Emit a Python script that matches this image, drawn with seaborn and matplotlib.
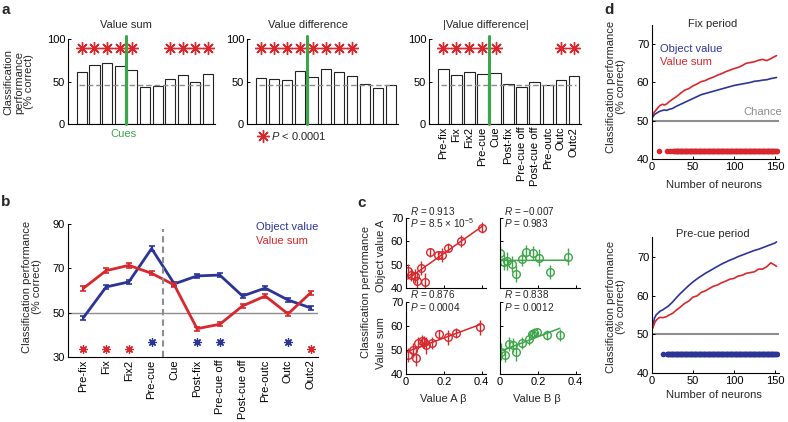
import matplotlib
matplotlib.use("Agg")
import matplotlib.pyplot as plt
import numpy as np
import pandas as pd
import seaborn as sns

W, H = 788, 422

BLUE = "#2c3596"
RED = "#d8272d"
GREEN = "#3ea54a"
GRAY = "#8e8e8e"

periods = ["Pre-fix", "Fix", "Fix2", "Pre-cue", "Cue", "Post-fix",
           "Pre-cue off", "Post-cue off", "Pre-outc", "Outc", "Outc2"]

# panel a: decoding per period
bar_sum = [61.4, 69.3, 72.4, 68.5, 63.8, 43.3, 44.9, 53.1, 57.9, 50.0, 59.4]
bar_diff = [53.9, 53.1, 52.4, 62.6, 55.5, 65.0, 61.0, 56.3, 46.9, 42.9, 45.7]
bar_absdiff = [65.4, 58.4, 61.5, 58.8, 60.7, 47.5, 43.2, 49.8, 45.9, 52.5, 57.2]
chance_a = 45.5
star_level_a = 90
sig_sum = [0, 1, 2, 3, 4, 7, 8, 9, 10]
sig_diff = [0, 1, 2, 3, 4, 5, 6, 7]
sig_absdiff = [0, 1, 2, 3, 4, 9, 10]

# panel b
obj_b = [47.7, 61.6, 63.9, 79.0, 63.0, 66.6, 67.0, 57.5, 61.1, 55.7, 52.1]
obj_b_err = [0.9, 1.0, 1.0, 1.1, 0.9, 1.0, 1.0, 1.0, 1.0, 0.9, 0.9]
sum_b = [61.0, 69.0, 71.4, 67.8, 62.5, 42.7, 44.7, 53.0, 57.5, 49.4, 59.0]
sum_b_err = [1.0, 1.0, 1.0, 1.0, 1.0, 0.9, 0.9, 1.0, 1.0, 1.0, 1.0]
sig_obj_b = [3, 5, 6, 9]
sig_sum_b = [0, 1, 2, 10]
star_obj_b = 36.7
star_sum_b = 33.3

# panel c
ca_x = [0.009, 0.027, 0.046, 0.060, 0.077, 0.100, 0.128, 0.168, 0.190, 0.223, 0.290, 0.404]
ca_obj = [47.4, 45.7, 45.2, 43.1, 48.5, 42.8, 55.3, 54.0, 54.0, 57.3, 60.2, 65.8]
ca_obj_err = [3.0, 2.5, 3.0, 3.5, 3.0, 3.5, 2.0, 2.0, 3.0, 2.0, 2.5, 2.5]
cb_x = [0.000, 0.021, 0.039, 0.061, 0.084, 0.114, 0.137, 0.172, 0.207, 0.263, 0.360]
cb_obj = [54.9, 51.3, 51.6, 50.3, 46.1, 52.5, 55.3, 54.9, 53.0, 47.1, 53.5]
cb_obj_err = [3.0, 3.5, 4.0, 3.5, 3.5, 3.0, 3.0, 3.0, 3.5, 3.0, 3.5]
ca_x2 = [0.013, 0.035, 0.053, 0.064, 0.082, 0.097, 0.108, 0.137, 0.174, 0.223, 0.263, 0.393]
ca_sum = [47.9, 49.9, 46.8, 52.7, 53.8, 53.4, 52.0, 52.7, 56.4, 55.2, 57.1, 59.3]
ca_sum_err = [3.0, 3.0, 3.5, 2.5, 2.5, 2.5, 3.5, 2.5, 2.0, 3.0, 2.0, 3.0]
cb_x2 = [0.004, 0.026, 0.049, 0.067, 0.084, 0.114, 0.154, 0.167, 0.181, 0.196, 0.246, 0.316]
cb_sum = [49.3, 47.9, 52.4, 52.0, 49.0, 52.7, 54.5, 56.4, 57.1, 57.6, 56.2, 56.2]
cb_sum_err = [3.5, 3.0, 3.0, 3.0, 3.5, 2.5, 2.5, 2.0, 2.0, 1.5, 2.0, 2.5]
c_stats = [("0.913", r"8.5 × 10$^{-5}$"), ("\u22120.007", "0.983"),
           ("0.876", "0.0004"), ("0.838", "0.0012")]

# panel d
n_neurons = [1, 3, 5, 8, 10, 13, 15, 18, 20, 25, 30, 35, 40, 45, 50, 55, 60, 65, 70,
             75, 80, 85, 90, 95, 100, 105, 110, 115, 120, 125, 130, 135, 140, 145, 150, 152]
fix_obj = [51.0, 51.6, 51.9, 52.3, 52.5, 52.7, 52.8, 52.7, 52.9, 53.2, 53.8, 54.3, 54.8,
           55.3, 55.8, 56.3, 56.8, 57.1, 57.4, 57.7, 58.0, 58.3, 58.6, 58.9, 59.2, 59.4,
           59.6, 59.8, 60.0, 60.3, 60.4, 60.6, 60.7, 61.0, 61.2, 61.3]
fix_sum = [51.5, 52.3, 52.8, 53.6, 54.0, 54.3, 54.1, 54.4, 54.8, 55.6, 56.3, 57.2, 58.0,
           58.4, 59.1, 59.6, 60.2, 60.5, 61.0, 61.4, 61.9, 62.3, 62.8, 63.2, 63.6, 63.9,
           64.4, 65.0, 65.2, 65.4, 65.8, 66.0, 65.7, 66.2, 66.8, 67.0]
pre_obj = [52.0, 54.2, 55.0, 55.6, 56.0, 56.3, 56.6, 57.0, 57.3, 58.3, 59.5, 60.6, 61.6,
           62.6, 63.5, 64.3, 65.0, 65.7, 66.3, 66.9, 67.5, 68.1, 68.6, 69.1, 69.5, 70.0,
           70.4, 70.8, 71.2, 71.6, 71.9, 72.3, 72.7, 73.1, 73.5, 73.8]
pre_sum = [51.6, 52.9, 53.6, 54.2, 54.4, 54.3, 54.4, 54.6, 54.9, 55.4, 56.3, 57.1, 58.0,
           58.6, 59.6, 59.9, 60.8, 61.2, 61.8, 62.4, 62.7, 63.3, 63.7, 64.2, 64.4, 65.0,
           65.2, 65.7, 65.9, 66.1, 66.8, 66.8, 67.4, 68.4, 67.8, 67.5]
sig_fix_n = [9, 18, 22] + list(range(26, 153))
sig_pre_n = [13] + list(range(18, 153))
sig_fix_level = 42
sig_pre_level = 45


def rect(left, top, right, bottom):
    return [left / W, 1 - bottom / H, (right - left) / W, (bottom - top) / H]


def ftext(x, y, s, **kw):
    fig.text(x / W, 1 - y / H, s, **kw)


sns.set_theme(style="ticks")
plt.rcParams["font.family"] = ["Liberation Sans", "DejaVu Sans"]
plt.rcParams["mathtext.fontset"] = "custom"
plt.rcParams["mathtext.rm"] = "Liberation Sans"
plt.rcParams["mathtext.it"] = "Liberation Sans:italic"
plt.rcParams["axes.linewidth"] = 0.8
plt.rcParams["axes.edgecolor"] = "black"

fig = plt.figure(figsize=(W / 100, H / 100), dpi=100)
FS = 8


def style(ax):
    sns.despine(ax=ax)
    ax.tick_params(direction="in", length=2.5, width=0.7, labelsize=FS, pad=2,
                   colors="black")
    ax.set_xlabel("")
    ax.set_ylabel("")


star = (8, 2, 0)

# ---- panel a
a_specs = [
    (rect(68, 39.3, 215, 124), bar_sum, sig_sum),
    (rect(247, 39.3, 398, 124), bar_diff, sig_diff),
    (rect(429, 39.3, 581, 124), bar_absdiff, sig_absdiff),
]
cue = periods.index("Cue")
for i, (r, vals, sig) in enumerate(a_specs):
    ax = fig.add_axes(r)
    df = pd.DataFrame({"period": periods, "perf": vals})
    sns.barplot(data=df, x="period", y="perf", order=periods, color="white",
                saturation=1, edgecolor="#222222", linewidth=0.8, width=0.8, ax=ax)
    ax.plot([-0.2, len(periods) - 0.8], [chance_a, chance_a], color=GRAY,
            lw=1, ls=(0, (4, 2)))
    ax.plot([cue - 0.5, cue - 0.5], [0, 104], color=GREEN, lw=2.2, clip_on=False,
            zorder=5)
    ax.plot(sig, [star_level_a] * len(sig), ls="none", marker=star, ms=9,
            mec=RED, mew=1.0, clip_on=False)
    ax.set_ylim(0, 100)
    ax.set_xlim(-1.1, 10.55)
    ax.set_yticks([0, 50, 100])
    style(ax)
    ax.tick_params(axis="x", length=0)
    if i == 2:
        ax.set_xticks(range(len(periods)))
        ax.set_xticklabels(periods, rotation=90)
    else:
        ax.set_xticklabels([])

ftext(126, 25, "Value sum", ha="center", va="center", fontsize=FS)
ftext(308, 25, "Value difference", ha="center", va="center", fontsize=FS)
ftext(486, 25, "|Value difference|", ha="center", va="center", fontsize=FS)
ftext(123, 134, "Cues", ha="center", va="center", fontsize=FS, color=GREEN)
ftext(19, 82, "Classification\nperformance\n(% correct)", ha="center", va="center",
      rotation=90, fontsize=FS, linespacing=1.05)
fig.lines.append(plt.Line2D([263 / W], [1 - 136 / H], transform=fig.transFigure,
                            marker=star, ms=9, mec=RED, mew=1.0, ls="none"))
ftext(271, 136, r"$P$ < 0.0001", ha="left", va="center", fontsize=FS)

# ---- panel b
axb = fig.add_axes(rect(67.7, 224.3, 318, 356.7))
xb = np.arange(len(periods))
for vals, err, col in [(obj_b, obj_b_err, BLUE), (sum_b, sum_b_err, RED)]:
    sns.lineplot(x=xb, y=vals, color=col, lw=2, ax=axb)
    axb.errorbar(xb, vals, yerr=err, fmt="none", ecolor=col, elinewidth=1.5,
                 capsize=2, capthick=1.2)
axb.axhline(50, color=GRAY, lw=1, zorder=0)
axb.plot([cue - 0.5, cue - 0.5], [30, 88], color=GRAY, lw=1.5, ls=(0, (3, 2)))
axb.plot(sig_obj_b, [star_obj_b] * len(sig_obj_b), ls="none", marker=star, ms=6,
         mec=BLUE, mew=0.9)
axb.plot(sig_sum_b, [star_sum_b] * len(sig_sum_b), ls="none", marker=star, ms=6,
         mec=RED, mew=0.9)
axb.set_ylim(30, 90)
axb.set_xlim(-0.69, 10.32)
axb.set_yticks([30, 50, 70, 90])
axb.set_xticks(xb)
axb.set_xticklabels(periods, rotation=90)
style(axb)
axb.tick_params(axis="x", length=0)
ftext(32, 287, "Classification performance\n(% correct)", ha="center", va="center",
      rotation=90, fontsize=FS, linespacing=1.05)
ftext(256, 227, "Object value", color=BLUE, ha="left", va="center", fontsize=FS)
ftext(256, 241, "Value sum", color=RED, ha="left", va="center", fontsize=FS)

# ---- panel c
c_specs = [
    (rect(406, 217.7, 485.5, 288.3), ca_x, ca_obj, ca_obj_err, RED),
    (rect(500, 217.7, 579.5, 288.3), cb_x, cb_obj, cb_obj_err, GREEN),
    (rect(406, 301.7, 485.5, 374), ca_x2, ca_sum, ca_sum_err, RED),
    (rect(500, 301.7, 579.5, 374), cb_x2, cb_sum, cb_sum_err, GREEN),
]
for k, (r, xs, ys, es, col) in enumerate(c_specs):
    ax = fig.add_axes(r)
    sns.regplot(x=np.array(xs), y=np.array(ys), scatter=False, ci=None, color=col,
                line_kws=dict(lw=1.1), ax=ax)
    ax.errorbar(xs, ys, yerr=es, fmt="o", mfc="none", mec=col, ecolor=col, ms=5.5,
                mew=1, elinewidth=1)
    ax.set_xlim(0, 0.42)
    ax.set_ylim(40, 70)
    ax.set_yticks([40, 50, 60, 70])
    ax.set_xticks([0, 0.2, 0.4])
    ax.set_xticklabels(["0", "0.2", "0.4"])
    style(ax)
    if k % 2 == 1:
        ax.set_yticklabels([])
    if k < 2:
        ax.set_xticklabels([])
    rv, pv = c_stats[k]
    ax.text(0.05, 1.1, r"$R$ = " + rv, transform=ax.transAxes, ha="left",
            va="center", fontsize=7.2)
    ax.text(0.05, 0.92, r"$P$ = " + pv, transform=ax.transAxes, ha="left",
            va="center", fontsize=7.2)

ftext(366, 292, "Classification performance", rotation=90, ha="center",
      va="center", fontsize=FS)
ftext(381, 256, "Object value A", rotation=90, ha="center", va="center",
      fontsize=FS)
ftext(381, 343, "Value sum", rotation=90, ha="center", va="center", fontsize=FS)
ftext(443, 399, "Value A \u03b2", ha="center", va="center", fontsize=FS)
ftext(537, 399, "Value B \u03b2", ha="center", va="center", fontsize=FS)

# ---- panel d
d_specs = [
    (rect(652, 25, 779, 159), fix_obj, fix_sum, sig_fix_n, sig_fix_level, RED,
     "Fix period", 24, 87, 185),
    (rect(652, 237.2, 779, 373.3), pre_obj, pre_sum, sig_pre_n, sig_pre_level, BLUE,
     "Pre-cue period", 234, 307, 395),
]
for j, (r, obj, vsum, sig_n, lvl, sig_col, title, ty, yl, xl) in enumerate(d_specs):
    ax = fig.add_axes(r)
    ax.axhline(50, color=GRAY, lw=1.5, zorder=0)
    sns.lineplot(x=n_neurons, y=obj, color=BLUE, lw=1.2, ax=ax)
    sns.lineplot(x=n_neurons, y=vsum, color=RED, lw=1.2, ax=ax)
    ax.plot(sig_n, [lvl] * len(sig_n), ls="none", marker="o", ms=3, color=sig_col)
    ax.set_xlim(0, 155)
    ax.set_ylim(40, 75)
    ax.set_yticks([40, 50, 60, 70])
    ax.set_xticks([0, 50, 100, 150])
    style(ax)
    ftext(713, ty, title, ha="center", va="center", fontsize=FS)
    ftext(616, yl, "Classification performance\n(% correct)", rotation=90,
          ha="center", va="center", fontsize=FS, linespacing=1.05)
    ftext(714, xl, "Number of neurons", ha="center", va="center", fontsize=FS)

ftext(782, 112, "Chance", ha="right", va="center", color=GRAY, fontsize=FS)
ftext(660, 49, "Object value", ha="left", va="center", color=BLUE, fontsize=FS)
ftext(660, 62, "Value sum", ha="left", va="center", color=RED, fontsize=FS)

# panel letters
for letter, (lx, ly) in zip("abcd", [(6, 10), (6, 202), (362, 203), (609, 10)]):
    ftext(lx, ly, letter, fontsize=11, fontweight="bold", ha="center", va="center")

fig.savefig("out.png", dpi=100)
